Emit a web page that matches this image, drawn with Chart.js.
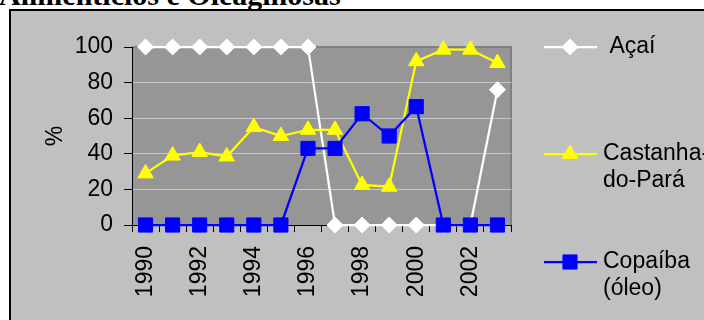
<!DOCTYPE html>
<html>
<head>
<meta charset="utf-8">
<script src="https://cdn.jsdelivr.net/npm/chart.js@4/dist/chart.umd.min.js"></script>
<style>
  html, body { margin: 0; padding: 0; background: #fff; width: 704px; height: 320px; overflow: hidden; }
  #title { position: absolute; left: -1px; top: -20px; font: bold 30px "Liberation Serif", "Times New Roman", serif; line-height: 30px; white-space: nowrap; color: #000; }
  #box { position: absolute; left: 9px; top: 9px; width: 695px; height: 311px; background: #c0c0c0; border-left: 2px solid #000; border-top: 2px solid #000; }
  #chart { position: absolute; left: 0; top: 0; }
</style>
</head>
<body>
<div id="title">Alimentícios e Oleaginosas</div>
<div id="box"></div>
<canvas id="chart" width="704" height="320"></canvas>
<script>
// anos e % por produto
const years = ['1990', '1991', '1992', '1993', '1994', '1995', '1996', '1997', '1998', '1999', '2000', '2001', '2002', '2003'];
const acai = [100, 100, 100, 100, 100, 100, 100, 0, 0, 0, 0, 0, 0, 76];
const castanha = [29, 39, 41, 38.5, 55, 50, 53.5, 53.5, 22.5, 21.5, 92, 98.5, 98.5, 91];
const copaiba = [0, 0, 0, 0, 0, 0, 43, 43, 62.5, 50, 66.5, 0, 0, 0];
const yTicks = [0, 20, 40, 60, 80, 100];

const legendNames = [[' Açaí'], ['Castanha-', 'do-Pará'], ['Copaíba', '(óleo)']];
const legendRows = [47, 154, 262];

const FONT = "'Liberation Sans', Arial, sans-serif";

// fundo cinza da área de plotagem
const plotBg = {
    id: 'plotBg',
    beforeDraw(chart) {
        const a = chart.chartArea;
        const ctx = chart.ctx;
        ctx.save();
        ctx.fillStyle = '#969696';
        ctx.fillRect(a.left, a.top, a.right - a.left, a.bottom - a.top);
        ctx.strokeStyle = '#808080';
        ctx.lineWidth = 2;
        ctx.beginPath();
        ctx.moveTo(a.left, a.top);
        ctx.lineTo(a.right, a.top);
        ctx.lineTo(a.right, a.bottom);
        ctx.stroke();
        ctx.restore();
    }
};

// legenda à direita com rótulos de duas linhas
const sideLegend = {
    id: 'sideLegend',
    afterDraw(chart) {
        const ctx = chart.ctx;
        const x0 = 544, x1 = 597, xm = 570, xt = 603;
        ctx.save();
        chart.data.datasets.forEach((ds, i) => {
            const y = legendRows[i];
            ctx.strokeStyle = ds.borderColor;
            ctx.lineWidth = ds.borderWidth;
            ctx.beginPath();
            ctx.moveTo(x0, y);
            ctx.lineTo(x1, y);
            ctx.stroke();
            ctx.fillStyle = ds.pointBackgroundColor;
            ctx.strokeStyle = ds.pointBorderColor;
            ctx.lineWidth = 1;
            Chart.helpers.drawPoint(ctx, { pointStyle: ds.pointStyle, radius: ds.pointRadius, rotation: 0, borderWidth: 1 }, xm, y);
            ctx.fillStyle = '#000';
            ctx.font = '23px ' + FONT;
            ctx.textBaseline = 'middle';
            ctx.textAlign = 'left';
            legendNames[i].forEach((line, k) => ctx.fillText(line, xt, y + k * 27));
        });
        ctx.restore();
    }
};

const series = (label, data, color, style, radius, order) => ({
    label: label,
    data: data,
    borderColor: color,
    borderWidth: 2.25,
    backgroundColor: color,
    pointStyle: style,
    pointRadius: radius,
    pointHoverRadius: radius,
    pointBackgroundColor: color,
    pointBorderColor: color,
    pointBorderWidth: 1,
    tension: 0,
    clip: false,
    order: order
});

new Chart(document.getElementById('chart').getContext('2d'), {
    type: 'line',
    data: {
        labels: years,
        datasets: [
            series('Açaí', acai, '#ffffff', 'rectRot', 8, 3),
            series('Castanha-do-Pará', castanha, '#ffff00', 'triangle', 9, 2),
            series('Copaíba (óleo)', copaiba, '#0000ff', 'rect', 10, 1)
        ]
    },
    options: {
        responsive: false,
        animation: false,
        layout: { padding: { left: 0, top: 47, right: 193, bottom: 0 } },
        plugins: { legend: { display: false }, tooltip: { enabled: false } },
        font: { family: FONT },
        scales: {
            x: {
                type: 'category',
                offset: true,
                afterFit(scale) { scale.height = 95; },
                grid: { offset: true, drawOnChartArea: false, tickLength: 7, color: '#000', tickColor: '#000' },
                border: { color: '#000', width: 1 },
                ticks: {
                    autoSkip: false, maxRotation: 90, minRotation: 90, padding: 14,
                    color: '#000', font: { family: FONT, size: 23 },
                    callback(val, i) { return i % 2 === 0 ? years[i] : ''; }
                }
            },
            y: {
                min: 0, max: 100,
                afterFit(scale) { scale.width = 132; },
                afterBuildTicks(scale) { scale.ticks = yTicks.map(v => ({ value: v })); },
                title: { display: true, text: '%', color: '#000', font: { family: FONT, size: 23 }, padding: { top: 42, bottom: 0 } },
                grid: {
                    tickLength: 8,
                    tickColor: '#000',
                    color: ctx => ctx.tick && ctx.tick.value === 100 ? '#808080' : '#c8c8c8'
                },
                border: { color: '#000', width: 1 },
                ticks: { padding: 11, color: '#000', font: { family: FONT, size: 23 } }
            }
        }
    },
    plugins: [plotBg, sideLegend]
});
</script>
</body>
</html>
